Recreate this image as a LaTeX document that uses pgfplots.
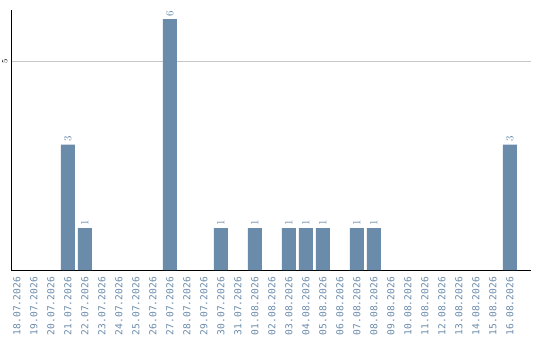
\documentclass[border=0pt]{standalone}
\usepackage{pgfplots}
\pgfplotsset{compat=1.18}
\usepackage{fontspec}
\setmainfont{DejaVu Sans}
\setmonofont{DejaVu Sans Mono}
\definecolor{barblue}{HTML}{6B8BAB}
\definecolor{lblblue}{HTML}{6A8AAA}

\begin{document}
\begin{tikzpicture}
\begin{axis}[
  at={(0pt,0pt)}, anchor=south west,
  scale only axis, width=520pt, height=260pt,
  xmin=-0.35, xmax=30.24, ymin=0, ymax=6.22,
  ybar, bar width=14pt,
  axis lines*=left,
  axis line style={black, line width=0.9pt},
  major tick length=0pt,
  ytick={5}, ymajorgrids,
  grid style={color=black!22, line width=0.8pt},
  yticklabel style={rotate=90, anchor=south, font=\ttfamily\fontsize{8}{9}\selectfont, text=black, inner sep=0pt},
  yticklabel shift=3.5pt,
  xtick={0,...,29},
  xticklabels={18.07.2026,19.07.2026,20.07.2026,21.07.2026,22.07.2026,23.07.2026,24.07.2026,25.07.2026,26.07.2026,27.07.2026,28.07.2026,29.07.2026,30.07.2026,31.07.2026,01.08.2026,02.08.2026,03.08.2026,04.08.2026,05.08.2026,06.08.2026,07.08.2026,08.08.2026,09.08.2026,10.08.2026,11.08.2026,12.08.2026,13.08.2026,14.08.2026,15.08.2026,16.08.2026},
  xticklabel style={rotate=90, anchor=east, font=\ttfamily\fontsize{9.6}{10}\selectfont, text=lblblue, inner sep=0pt},
  xticklabel shift=7pt,
  nodes near coords,
  nodes near coords style={rotate=90, anchor=west, font=\ttfamily\fontsize{11}{12}\selectfont, text=lblblue, inner ysep=0pt, inner xsep=2.5pt},
]
\addplot[fill=barblue, draw=none] coordinates {
  (3,3) (4,1) (9,6) (12,1) (14,1) (16,1) (17,1) (18,1) (20,1) (21,1) (29,3)
};
\end{axis}
\pgfresetboundingbox
\useasboundingbox (-11pt,-70pt) rectangle (529pt,270pt);
\end{tikzpicture}
\end{document}
